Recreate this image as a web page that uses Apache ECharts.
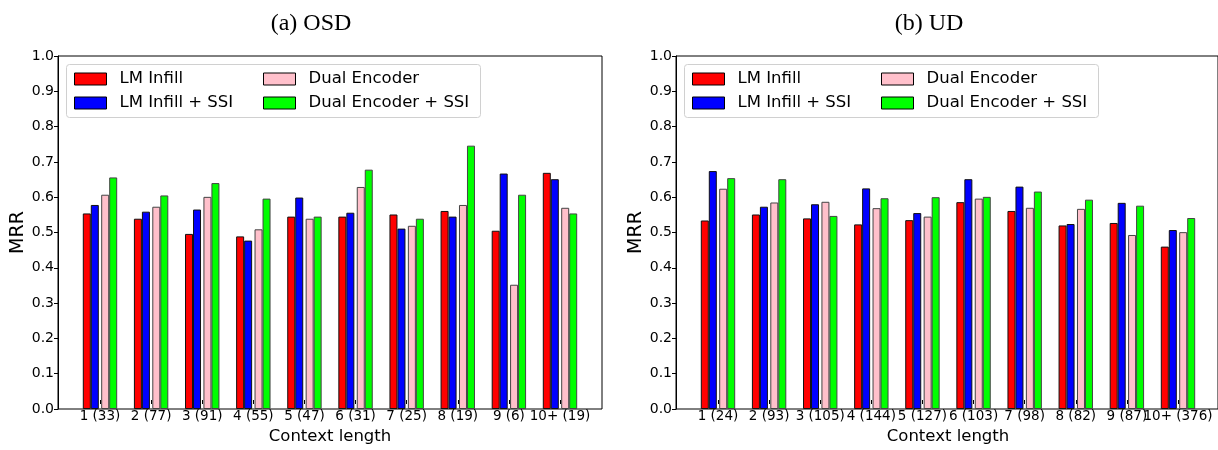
<!DOCTYPE html>
<html>
<head>
<meta charset="utf-8">
<script src="https://cdn.jsdelivr.net/npm/echarts@6/dist/echarts.min.js"></script>
<style>html,body{margin:0;padding:0;background:#fff}#c{width:1218px;height:450px}</style>
</head>
<body>
<div id="c"></div>
<script>
// ---- data ----
const osdCategories = ['1 (33)','2 (77)','3 (91)','4 (55)','5 (47)','6 (31)','7 (25)','8 (19)','9 (6)','10+ (19)'];
const udCategories  = ['1 (24)','2 (93)','3 (105)','4 (144)','5 (127)','6 (103)','7 (98)','8 (82)','9 (87)','10+ (376)'];
const seriesNames = ['LM Infill','LM Infill + SSI','Dual Encoder','Dual Encoder + SSI'];
const osdLMInfill      = [0.554,0.539,0.496,0.489,0.545,0.545,0.551,0.561,0.505,0.669];
const osdLMInfillSSI   = [0.578,0.559,0.565,0.477,0.599,0.556,0.511,0.545,0.667,0.651];
const osdDualEncoder   = [0.607,0.573,0.601,0.509,0.539,0.629,0.519,0.578,0.352,0.570];
const osdDualEncoderSSI= [0.656,0.605,0.640,0.596,0.545,0.678,0.539,0.746,0.607,0.554];
const udLMInfill       = [0.534,0.551,0.540,0.523,0.535,0.586,0.561,0.520,0.527,0.460];
const udLMInfillSSI    = [0.674,0.573,0.580,0.625,0.555,0.651,0.630,0.524,0.584,0.507];
const udDualEncoder    = [0.624,0.585,0.587,0.569,0.545,0.596,0.570,0.567,0.493,0.501];
const udDualEncoderSSI = [0.654,0.651,0.547,0.597,0.600,0.601,0.616,0.593,0.576,0.541];
const yTicks = [0,0.1,0.2,0.3,0.4,0.5,0.6,0.7,0.8,0.9,1.0];

// ---- styling / layout ----
const colors = ['#ff0000','#0000ff','#ffc0cb','#00ff00'];
const borders = ['#111','#111','#444','#444'];
const FONT = 'DejaVu Sans';
const TOP = 56, FH = 353, FW = 544, MARGIN = 42, OFFSET = 9.2, BARW = 8;
const panels = [
  {left: 58,  title: '(a) OSD', cats: osdCategories, data: [osdLMInfill, osdLMInfillSSI, osdDualEncoder, osdDualEncoderSSI]},
  {left: 676, title: '(b) UD',  cats: udCategories,  data: [udLMInfill, udLMInfillSSI, udDualEncoder, udDualEncoderSSI]}
];

const grid = [], xAxis = [], yAxis = [], series = [], title = [], legend = [], graphic = [];
panels.forEach((p, pi) => {
  const spacing = (FW - 2 * MARGIN) / (p.cats.length - 1);
  const catLeft = p.left + MARGIN - spacing / 2;
  const catWidth = spacing * p.cats.length;
  const base = grid.length;
  // frame grid
  grid.push({left: p.left, top: TOP, width: FW, height: FH, show: true, borderColor: '#000', borderWidth: 1, backgroundColor: 'transparent'});
  // label grid
  grid.push({left: catLeft, top: TOP, width: catWidth, height: FH});
  // bar grids
  grid.push({left: catLeft - OFFSET, top: TOP, width: catWidth, height: FH});
  grid.push({left: catLeft + OFFSET, top: TOP, width: catWidth, height: FH});

  xAxis.push({gridIndex: base, type: 'value', min: 0, max: 1, show: false});
  yAxis.push({gridIndex: base, type: 'value', min: 0, max: 1, interval: 0.1,
    axisLine: {show: true, lineStyle: {color: '#000', width: 1}},
    axisTick: {show: true, length: 4, lineStyle: {color: '#000'}},
    splitLine: {show: false},
    axisLabel: {color: '#000', fontFamily: FONT, fontSize: 14, margin: 4, formatter: v => v.toFixed(1)},
    name: 'MRR', nameLocation: 'middle', nameGap: 27, nameRotate: 90,
    nameTextStyle: {color: '#000', fontFamily: FONT, fontSize: 19}
  });

  xAxis.push({gridIndex: base + 1, type: 'category', data: p.cats, boundaryGap: true,
    axisLine: {show: false},
    axisTick: {show: true, alignWithLabel: true, length: 4, lineStyle: {color: '#000'}},
    axisLabel: {interval: 0, color: '#000', fontFamily: FONT, fontSize: 13.5, margin: 9},
    name: 'Context length', nameLocation: 'middle', nameGap: 28,
    nameTextStyle: {color: '#000', fontFamily: FONT, fontSize: 16.5}
  });
  yAxis.push({gridIndex: base + 1, type: 'value', min: 0, max: 1, show: false});

  for (let g = 0; g < 2; g++) {
    xAxis.push({gridIndex: base + 2 + g, type: 'category', data: p.cats, show: false});
    yAxis.push({gridIndex: base + 2 + g, type: 'value', min: 0, max: 1, show: false, splitLine: {show: false}});
  }

  p.data.forEach((arr, si) => {
    const ax = base + 2 + (si < 2 ? 0 : 1);
    series.push({
      type: 'bar', name: seriesNames[si], xAxisIndex: ax, yAxisIndex: ax,
      data: arr, barWidth: BARW, barGap: '0%', animation: false,
      itemStyle: {color: colors[si], borderColor: borders[si], borderWidth: 1}
    });
  });

  title.push({text: p.title, left: p.left + 248, top: 7, textAlign: 'center',
    textStyle: {fontFamily: 'Liberation Serif', fontWeight: 'normal', fontSize: 24, color: '#000'}});

  // legend box
  const boxL = p.left + 8;
  graphic.push({type: 'rect', left: boxL, top: 64, shape: {width: 414, height: 53, r: 3},
    style: {fill: 'rgba(255,255,255,0.8)', stroke: '#d0d0d0', lineWidth: 1}, z: 50});
  [[0, 1], [2, 3]].forEach((pair, ci) => {
    legend.push({
      data: pair.map(i => seriesNames[i]), orient: 'vertical',
      left: boxL + (ci === 0 ? 8 : 197), top: 70, padding: 0, itemGap: 6,
      itemWidth: 32, itemHeight: 12, icon: 'rect', selectedMode: false, z: 60,
      itemStyle: {borderColor: '#000', borderWidth: 1},
      textStyle: {fontFamily: FONT, fontSize: 16.5, color: '#000', padding: [0, 0, 0, 8], lineHeight: 18}
    });
  });
});

const chart = echarts.init(document.getElementById('c'));
chart.setOption({animation: false, backgroundColor: '#fff', grid, xAxis, yAxis, series, title, legend, graphic});
</script>
</body>
</html>
